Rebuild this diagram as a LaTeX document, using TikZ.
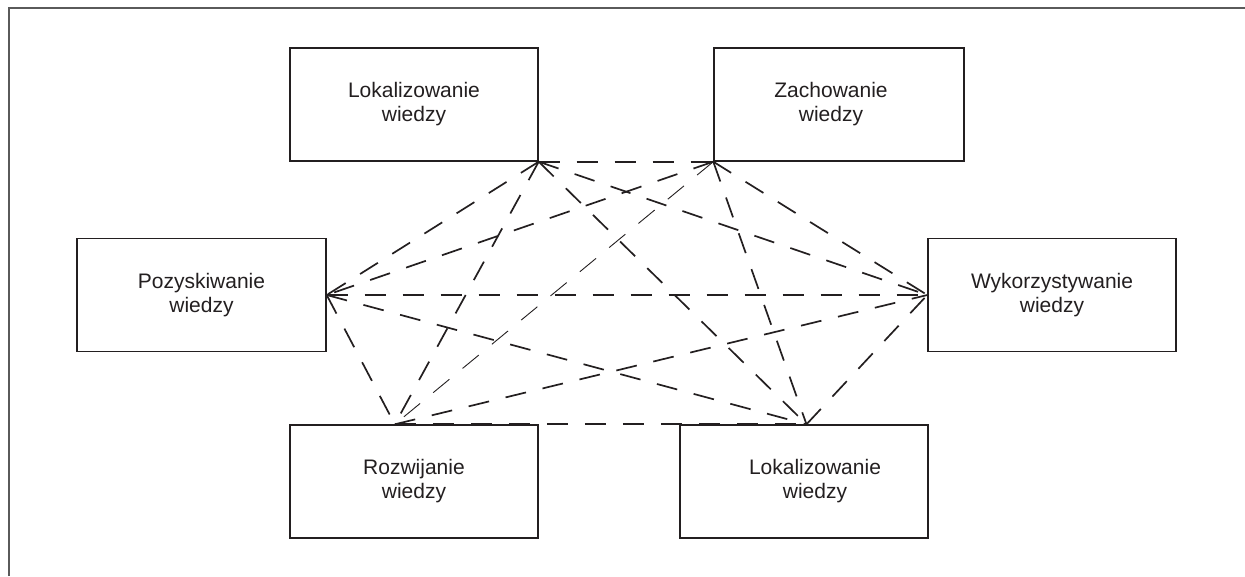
\documentclass[tikz,border=0pt]{standalone}
\usepackage{fontspec}
\setmainfont{Liberation Sans}
\usetikzlibrary{calc}
\definecolor{ink}{HTML}{231F20}
\definecolor{framegray}{HTML}{5A5A5A}
\tikzset{
  box/.style={draw=ink, line width=1.4pt, fill=white, rectangle,
    minimum width=248pt, minimum height=113pt, inner sep=0pt,
    align=center, text=ink, font=\fontsize{21}{24}\selectfont},
  link/.style={draw=ink, line width=1.7pt, dash pattern=on 21pt off 17pt},
  thinlink/.style={draw=ink, line width=0.9pt, dash pattern=on 21pt off 17pt},
  framestyle/.style={draw=framegray, line width=2.2pt}
}
\begin{document}
\begin{tikzpicture}[x=1pt,y=-1pt]
\useasboundingbox (0,0) rectangle (1245,576);
\draw[framestyle] (9,576) -- (9,8) -- (1246,8);

\node[box] (lt) at (414,104.5) {Lokalizowanie\\wiedzy};
\node[box, minimum width=250pt] (za) at (839,104.5) {\hspace*{-16pt}Zachowanie\\\hspace*{-16pt}wiedzy};
\node[box, minimum width=249pt] (po) at (201.5,295) {Pozyskiwanie\\wiedzy};
\node[box] (wy) at (1052,295) {Wykorzystywanie\\wiedzy};
\node[box] (ro) at (414,481.5) {Rozwijanie\\wiedzy};
\node[box] (lb) at (804,481.5) {\hspace*{22pt}Lokalizowanie\\\hspace*{22pt}wiedzy};

\coordinate (a) at (lt.south east);
\coordinate (b) at (za.south west);
\coordinate (p) at (po.east);
\coordinate (w) at (wy.west);
\coordinate (r) at ($(ro.north west)!0.423!(ro.north east)$);
\coordinate (l) at ($(lb.north west)!0.51!(lb.north east)$);

\draw[link] (a) -- (b);
\draw[link] (a) -- (p);
\draw[link] (a) -- (w);
\draw[link] (a) -- (r);
\draw[link] (a) -- (l);
\draw[link] (b) -- (p);
\draw[link] (b) -- (w);
\draw[thinlink] (b) -- (r);
\draw[link] (b) -- (l);
\draw[link] (p) -- (w);
\draw[link] (p) -- (r);
\draw[link] (p) -- (l);
\draw[link] (r) -- (w);
\draw[link] (r) -- (l);
\draw[link] (l) -- (w);
\end{tikzpicture}
\end{document}
